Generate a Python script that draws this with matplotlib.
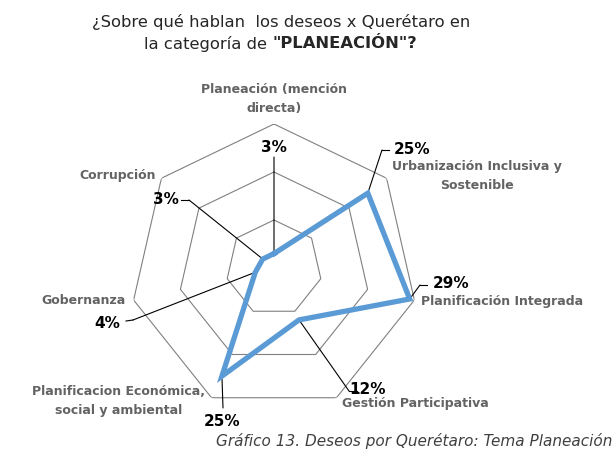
import numpy as np
import matplotlib
matplotlib.use("Agg")
import matplotlib.pyplot as plt
from matplotlib.lines import Line2D

# data
categories = ["Planeación (mención\ndirecta)", "Urbanización Inclusiva y\nSostenible",
              "Planificación Integrada", "Gestión Participativa",
              "Planificacion Económica,\nsocial y ambiental", "Gobernanza", "Corrupción"]
values = [3, 25, 29, 12, 25, 4, 3]
value_labels = ["3%", "25%", "29%", "12%", "25%", "4%", "3%"]
rings = [10, 20, 30]

W, H = 614, 450
plt.rcParams['font.family'] = ['DejaVu Sans']

fig = plt.figure(figsize=(W / 100, H / 100), dpi=100)

def px(x, y):
    # pixel position from top-left -> figure fraction
    return x / W, 1 - y / H

# polar axes, centre at (274, 268), outer ring radius 144 px
cx, cy, R = 274, 268, 144
ax = fig.add_axes([(cx - R) / W, (H - cy - R) / H, 2 * R / W, 2 * R / H], projection='polar')
ax.set_theta_offset(np.pi / 2)
ax.set_theta_direction(-1)
ax.set_ylim(0, 30)
ax.grid(False)
ax.spines['polar'].set_visible(False)
ax.set_xticks([])
ax.set_yticks([])
ax.patch.set_alpha(0)

n = len(values)
angles = np.arange(n) * 2 * np.pi / n
ang_closed = np.append(angles, angles[0])

for r in rings:
    ax.plot(ang_closed, [r] * (n + 1), color='#808080', lw=0.8, zorder=1)

vals_closed = values + values[:1]
ax.plot(ang_closed, vals_closed, color='#5B9BD5', lw=3.8, solid_joinstyle='miter', zorder=3)

gray = '#636363'
# category labels (pixel centres)
cat_pos = [(274, 99), (477, 176), (502, 301), (415, 404), (119, 401), (83, 300), (118, 175)]
for lab, (x, y) in zip(categories, cat_pos):
    fig.text(*px(x, y), lab, ha='center', va='center', fontsize=9, fontweight='bold',
             color=gray, linespacing=1.65)

# percent labels + leader lines: text centre, elbow, stub end
pct_pos = [(274, 147), (412, 150), (451, 283), (368, 389), (222, 421), (107, 323), (166, 200)]
elbows = [(274, 157), (382, 150), (420, 285), (349, 391), (223, 408), (133, 320), (189, 200)]
stubs = [None, (389, 150), (427, 285), (357, 391), None, (126, 321), (181, 200)]

for i in range(n):
    fig.text(*px(*pct_pos[i]), value_labels[i], ha='center', va='center', fontsize=11,
             fontweight='bold', color='black')
    ax.annotate('', xy=(angles[i], values[i]), xytext=px(*elbows[i]), textcoords='figure fraction',
                arrowprops=dict(arrowstyle='-', color='black', lw=0.8, shrinkA=0, shrinkB=0),
                zorder=2)
    if stubs[i] is not None:
        x0, y0 = px(*elbows[i])
        x1, y1 = px(*stubs[i])
        fig.add_artist(Line2D([x0, x1], [y0, y1], color='black', lw=0.8, transform=fig.transFigure))

# title
fig.text(*px(281, 22), "¿Sobre qué hablan  los deseos x Querétaro en", ha='center', va='center',
         fontsize=11.8, color='#262626')
fig.text(*px(272, 44), "la categoría de ", ha='right', va='center', fontsize=11.8, color='#262626')
fig.text(*px(272, 44), '"PLANEACIÓN"?', ha='left', va='center', fontsize=11.8, fontweight='bold',
         color='#262626')

# caption
fig.text(*px(612, 441), "Gráfico 13. Deseos por Querétaro: Tema Planeación", ha='right', va='center',
         fontsize=11, style='italic', color='#404040')

fig.savefig("out.png", dpi=100)
